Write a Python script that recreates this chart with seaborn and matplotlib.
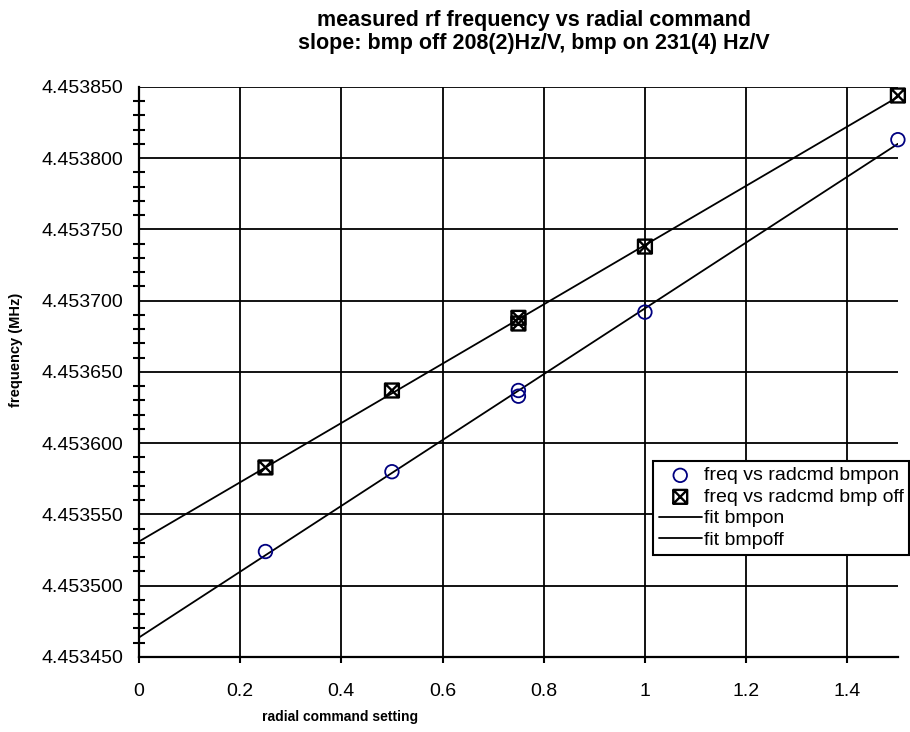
import numpy as np
import matplotlib
matplotlib.use("Agg")
import matplotlib.pyplot as plt
from matplotlib.path import Path
from matplotlib.ticker import AutoMinorLocator
import seaborn as sns

# 1. DATA
radcmd = [0.25, 0.5, 0.75, 0.75, 1.0, 1.5]
freq_bmpon = [4.453524, 4.453580, 4.453637, 4.453633, 4.453692, 4.453813]
freq_bmpoff = [4.453583, 4.453637, 4.453688, 4.453684, 4.453738, 4.453844]
fit_range = [0.0, 1.5]

x_ticks = [0, 0.2, 0.4, 0.6, 0.8, 1.0, 1.2, 1.4]
x_tick_labels = ["0", "0.2", "0.4", "0.6", "0.8", "1", "1.2", "1.4"]
y_ticks = [4.45345, 4.45350, 4.45355, 4.45360, 4.45365, 4.45370, 4.45375, 4.45380, 4.45385]
y_tick_labels = ["4.453450", "4.453500", "4.453550", "4.453600", "4.453650",
                 "4.453700", "4.453750", "4.453800", "4.453850"]

title = "measured rf frequency vs radial command\nslope: bmp off 208(2)Hz/V, bmp on 231(4) Hz/V"

# 2. LINEAR FITS (straight lines through each series)
fit_x = np.array(fit_range)
fit_on = np.polyval(np.polyfit(radcmd, freq_bmpon, 1), fit_x)
fit_off = np.polyval(np.polyfit(radcmd, freq_bmpoff, 1), fit_x)

# 3. STYLE
sns.set_theme(style="white", rc={
    "text.color": "black", "axes.labelcolor": "black",
    "xtick.color": "black", "ytick.color": "black", "axes.edgecolor": "black",
})
plt.rcParams["font.family"] = ["Liberation Sans", "DejaVu Sans"]

# square with an X inside
box_x = Path([(-1, -1), (1, -1), (1, 1), (-1, 1), (-1, -1), (-1, -1), (1, 1), (-1, 1), (1, -1)],
             [Path.MOVETO, Path.LINETO, Path.LINETO, Path.LINETO, Path.CLOSEPOLY,
              Path.MOVETO, Path.LINETO, Path.MOVETO, Path.LINETO])

fig = plt.figure(figsize=(9.1, 7.32), dpi=100)
ax = fig.add_axes([0.1527, 0.1025, 0.834, 0.7787])

# 4. DRAW
sns.lineplot(x=fit_x, y=fit_on, color="black", linewidth=1.3, label="fit bmpon", ax=ax)
sns.lineplot(x=fit_x, y=fit_off, color="black", linewidth=1.3, label="fit bmpoff", ax=ax)
sns.scatterplot(x=radcmd, y=freq_bmpon, marker="o", s=95, facecolor="none",
                edgecolor="#000080", linewidth=1.3, clip_on=False, zorder=3,
                label="freq vs radcmd bmpon", ax=ax)
sns.scatterplot(x=radcmd, y=freq_bmpoff, marker=box_x, s=100, facecolor="none",
                edgecolor="black", linewidth=1.7, clip_on=False, zorder=3,
                label="freq vs radcmd bmp off", ax=ax)

# 5. AXES
ax.set_xlim(0, 1.5)
ax.set_ylim(y_ticks[0], y_ticks[-1])
ax.set_xticks(x_ticks)
ax.set_xticklabels(x_tick_labels)
ax.set_yticks(y_ticks)
ax.set_yticklabels(y_tick_labels)
ax.yaxis.set_minor_locator(AutoMinorLocator(5))
ax.grid(True, which="major", color="black", linewidth=1.3)
ax.tick_params(axis="y", which="major", direction="inout", length=10, width=1.5, pad=6.5, labelsize=14)
ax.tick_params(axis="y", which="minor", direction="inout", length=8, width=1.5, left=True)
ax.tick_params(axis="x", which="major", direction="out", length=4.5, width=1.5, pad=14, labelsize=14, bottom=True)
sns.despine(ax=ax)
for side in ["left", "bottom"]:
    ax.spines[side].set_linewidth(1.6)

ax.set_xlabel("radial command setting", fontsize=10, fontweight="bold", va="center")
ax.xaxis.set_label_coords(0.265, -0.105)
ax.set_ylabel("frequency (MHz)", fontsize=10.5, fontweight="bold", va="center")
ax.yaxis.set_label_coords(-0.162, 0.5386)

fig.text(534 / 910, 1 - 10 / 732, title, ha="center", va="top",
         fontsize=15.5, fontweight="bold", linespacing=1.1)

# 6. LEGEND
handles, labels = ax.get_legend_handles_labels()
order = ["freq vs radcmd bmpon", "freq vs radcmd bmp off", "fit bmpon", "fit bmpoff"]
lookup = dict(zip(labels, handles))
ax.get_legend().remove()
leg = fig.legend([lookup[k] for k in order], order, loc="upper left",
                 bbox_to_anchor=(653 / 910, 1 - 461 / 732), fontsize=14,
                 frameon=True, fancybox=False, framealpha=1, edgecolor="black",
                 labelspacing=0.2, borderpad=0.3, handlelength=2.2,
                 handletextpad=0.1, borderaxespad=0)
leg.get_frame().set_linewidth(1.5)

fig.savefig("out.png", dpi=100)
